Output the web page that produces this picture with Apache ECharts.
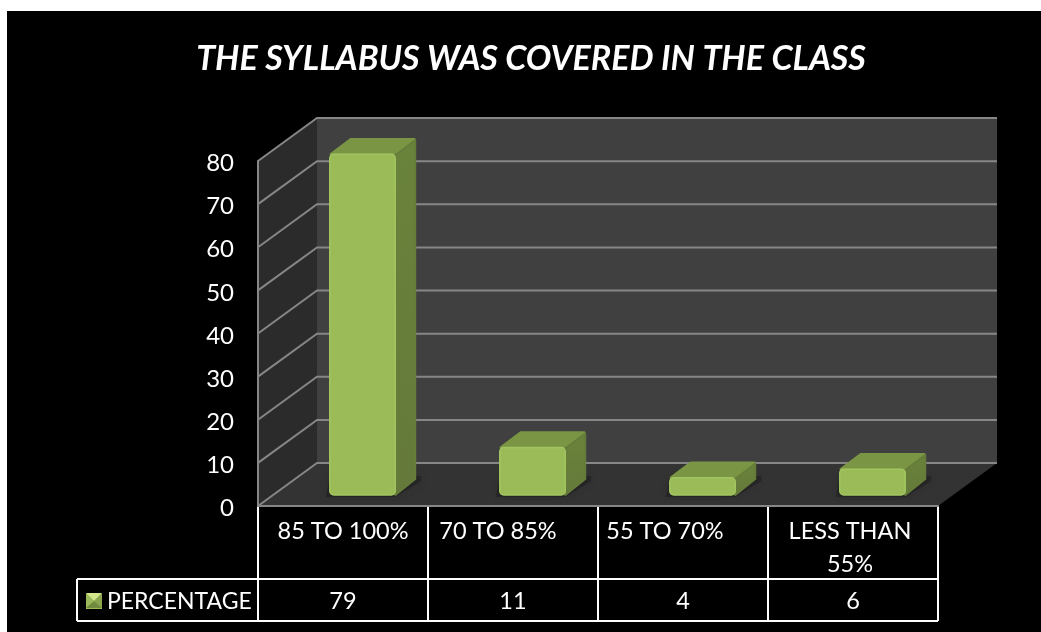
<!DOCTYPE html>
<html><head><meta charset="utf-8">
<style>html,body{margin:0;padding:0;background:#fff}#c{width:1041px;height:632px}</style>
<script src="https://cdn.jsdelivr.net/npm/echarts@6/dist/echarts.min.js"></script>
</head><body><div id="c"></div>
<script>
var categories = ['85 TO 100%', '70 TO 85%', '55 TO 70%', 'LESS THAN\n55%'];
var percentages = [79, 11, 4, 6];
var yTicks = [0, 10, 20, 30, 40, 50, 60, 70, 80];
var seriesName = 'PERCENTAGE';
var FONT = 'Lato, "Open Sans", sans-serif';
var DEPTH = [59, -43];       // wall depth
var BAR_OFF = [19.5, -11];   // bar front plane
var BAR_DEPTH = [20, -15];   // bar depth
var labelShift = [0, 30, 36, 6];

var chart = echarts.init(document.getElementById('c'), null, {renderer: 'canvas'});
function walls(params, api) {
  var a = api.coord([0, 0]), b = api.coord([3, 80]), w = api.size([1, 0])[0];
  var xl = a[0] - w / 2, xr = b[0] + w / 2, y0 = a[1], yt = b[1], dx = DEPTH[0], dy = DEPTH[1];
  var ch = [
    {type: 'polygon', shape: {points: [[xl, yt], [xl + dx, yt + dy], [xl + dx, y0 + dy], [xl, y0]]}, style: {fill: '#2b2b2b'}},
    {type: 'polygon', shape: {points: [[xl + dx, yt + dy], [xr + dx, yt + dy], [xr + dx, y0 + dy], [xl + dx, y0 + dy]]}, style: {fill: '#404040'}},
    {type: 'polygon', shape: {points: [[xl, y0], [xl + dx, y0 + dy], [xr + dx, y0 + dy], [xr, y0]]}, style: {fill: '#333333'}}
  ];
  yTicks.forEach(function (t) {
    var y = api.coord([0, t])[1];
    ch.push({type: 'polyline', shape: {points: [[xl, y], [xl + dx, y + dy], [xr + dx, y + dy]]},
      style: {fill: 'none', stroke: '#868686', lineWidth: 2}});
  });
  return {type: 'group', children: ch};
}
function bar(params, api) {
  var i = api.value(0), v = api.value(1);
  var c = api.coord([i, v]), b = api.coord([i, 0]), w = api.size([1, 0])[0] * 0.385;
  var xl = c[0] - w / 2 + BAR_OFF[0], xr = xl + w, yt = c[1] + BAR_OFF[1], yb = b[1] + BAR_OFF[1];
  var dx = BAR_DEPTH[0], dy = BAR_DEPTH[1];
  var sideGrad = new echarts.graphic.LinearGradient(0, 0, 0, 1, [{offset: 0, color: '#6a833b'}, {offset: 1, color: '#64793a'}]);
  return {type: 'group', children: [
    {type: 'polygon', shape: {points: [[xl - 4, yb + 2], [xr, yb + 2], [xr + dx + 6, yb + dy + 1], [xr + dx + 6, yb + dy - 4], [xl, yb + dy - 4]]},
      style: {fill: 'rgba(0,0,0,0.22)', shadowBlur: 10, shadowColor: 'rgba(0,0,0,0.55)'}},
    {type: 'polygon', shape: {points: [[xl + 1, yt], [xl + dx + 1, yt + dy], [xr + dx - 1, yt + dy], [xr, yt]]},
      style: {fill: '#7a9544', stroke: '#7a9544', lineWidth: 2.5, lineJoin: 'round'}},
    {type: 'polygon', shape: {points: [[xr, yt + 1], [xr + dx, yt + dy + 1], [xr + dx, yb + dy - 1], [xr, yb]]},
      style: {fill: sideGrad, stroke: '#667d3a', lineWidth: 2, lineJoin: 'round'}},
    {type: 'rect', shape: {x: xl, y: yt, width: w, height: yb - yt, r: 4},
      style: {fill: '#9bbb59', stroke: '#a3c661', lineWidth: 1.5}}
  ]};
}
function table(params, api) {
  var w = api.size([1, 0])[0], a = api.coord([0, 0]), y0 = a[1], xl = a[0] - w / 2, xr = xl + w * categories.length;
  var yRow = y0 + 73, yEnd = y0 + 115, left = xl - 181;
  var ls = [];
  function line(x1, y1, x2, y2) {
    ls.push({type: 'line', shape: {x1: x1, y1: y1, x2: x2, y2: y2}, style: {stroke: '#ffffff', lineWidth: 2}});
  }
  for (var i = 0; i <= categories.length; i++) line(xl + i * w, y0, xl + i * w, yEnd);
  line(left, yRow, xr, yRow); line(left, yEnd, xr, yEnd); line(left, yRow, left, yEnd);
  return {type: 'group', children: ls};
}
var catData = categories.map(function (c, i) {
  return {value: c, textStyle: {padding: [0, labelShift[i], 0, 0]}};
});
var option = {
  animation: false,
  backgroundColor: '#ffffff',
  title: {text: 'THE SYLLABUS WAS COVERED IN THE CLASS', left: 526, top: 37, textAlign: 'center',
    textStyle: {color: '#fff', fontFamily: FONT, fontSize: 34, fontStyle: 'italic', fontWeight: 'bold'}},
  graphic: {elements: [
    {type: 'rect', z: -10, shape: {x: 7, y: 11, width: 1034, height: 621}, style: {fill: '#000'}, silent: true},
    {type: 'polygon', z: 50, silent: true, shape: {points: [[86, 593], [102, 593], [94, 601]]}, style: {fill: '#d3e68c'}},
    {type: 'polygon', z: 50, silent: true, shape: {points: [[86, 593], [94, 601], [86, 608]]}, style: {fill: '#9bb85a'}},
    {type: 'polygon', z: 50, silent: true, shape: {points: [[102, 593], [94, 601], [102, 608]]}, style: {fill: '#8ba64e'}},
    {type: 'polygon', z: 50, silent: true, shape: {points: [[86, 608], [94, 601], [102, 608]]}, style: {fill: '#6f8a3f'}}
  ]},
  legend: {show: true, left: 86, top: 590, padding: 0, itemWidth: 16, itemHeight: 15, itemGap: 6, icon: 'rect',
    data: [seriesName], textStyle: {color: '#fff', fontFamily: FONT, fontSize: 23}},
  grid: {left: 258, top: 161, width: 680, height: 345, containLabel: false},
  xAxis: [
    {type: 'category', data: catData, position: 'bottom', z: 5,
      axisLine: {show: true, lineStyle: {color: '#868686', width: 2}}, axisTick: {show: false}, splitLine: {show: false},
      axisLabel: {interval: 0, color: '#fff', fontFamily: FONT, fontSize: 23.5, lineHeight: 33, margin: 9, hideOverlap: false}},
    {type: 'category', data: percentages.map(String), position: 'bottom', offset: 73, z: 5,
      axisLine: {show: false}, axisTick: {show: false}, splitLine: {show: false},
      axisLabel: {interval: 0, color: '#fff', fontFamily: FONT, fontSize: 23.5, lineHeight: 33, margin: 6}}
  ],
  yAxis: {type: 'value', min: 0, max: 80, interval: 10, z: 5,
    axisLine: {show: true, lineStyle: {color: '#868686', width: 2}}, axisTick: {show: false}, splitLine: {show: false},
    axisLabel: {color: '#fff', fontFamily: FONT, fontSize: 24, margin: 24, verticalAlign: 'top', lineHeight: 5}},
  series: [
    {type: 'custom', silent: true, z: 1, renderItem: walls, data: [[0, 0]], tooltip: {show: false}, legendHoverLink: false, clip: false, encode: {x: 0, y: 1}},
    {type: 'custom', name: seriesName, z: 2, renderItem: bar, itemStyle: {color: '#9bbb59'},
      data: percentages.map(function (v, i) { return [i, v]; }), encode: {x: 0, y: 1}, clip: false},
    {type: 'custom', silent: true, z: 3, renderItem: table, data: [[0, 0]], clip: false, encode: {x: 0, y: 1}}
  ]
};
chart.setOption(option);
</script></body></html>
